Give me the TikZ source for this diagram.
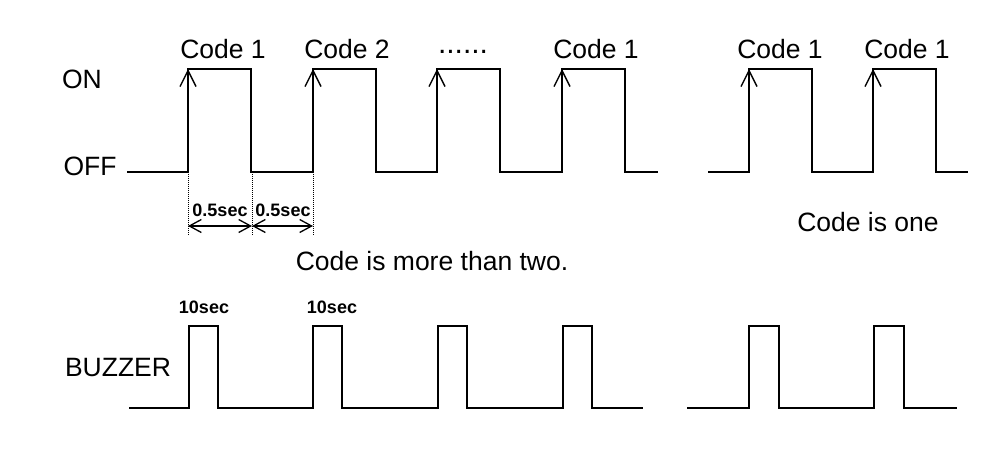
\documentclass[tikz,border=0pt]{standalone}
\usepackage{fontspec}
\setmainfont{Liberation Sans}
\usetikzlibrary{arrows.meta}
\begin{document}
\begin{tikzpicture}[x=1pt,y=-1pt,line width=1.7pt,
    lbl/.style={font=\fontsize{26.5}{30}\selectfont},
    tlbl/.style={font=\bfseries\fontsize{18}{20}\selectfont},
    edgearrow/.style={-{Straight Barb[length=16pt,width=16pt,line width=1.4pt]}},
    dimarrow/.style={{Straight Barb[length=12pt,width=13pt,line width=1.3pt]}-{Straight Barb[length=12pt,width=13pt,line width=1.3pt]},line width=1.3pt}]
  \useasboundingbox (0,0) rectangle (1008,462);

  % signal names
  \node[lbl] (on) at (82,79) {ON};
  \node[lbl] (off) at (90,166) {OFF};
  \node[lbl] (buzzer) at (118,368) {BUZZER};

  % code is more than two
  \draw (127,172) \foreach \x in {188,313,437,562}{ -- (\x,172) -- (\x,69) -- (\x+63,69) -- (\x+63,172)} -- (658,172);
  \foreach \x in {188,313,437,562}
    \draw[edgearrow] (\x,172) -- (\x,69);
  \node[lbl] (c1) at (223,49) {Code 1};
  \node[lbl] (c2) at (347,49) {Code 2};
  \node[lbl,font=\fontsize{30}{32}\selectfont] (dots) at (463,52) {......};
  \node[lbl] (c3) at (596,49) {Code 1};

  % 0.5sec marks
  \foreach \x in {188,252,313}
    \draw[densely dotted,line width=1pt] (\x,172) -- (\x,236);
  \draw[dimarrow] (188,226) -- (252,226);
  \draw[dimarrow] (252,226) -- (313,226);
  \node[tlbl] (t1) at (220,210) {0.5sec};
  \node[tlbl] (t2) at (283,210) {0.5sec};
  \node[lbl] (more) at (432,261) {Code is more than two.};

  % code is one
  \draw (708,172) \foreach \x in {749,873}{ -- (\x,172) -- (\x,69) -- (\x+63,69) -- (\x+63,172)} -- (968,172);
  \foreach \x in {749,873}
    \draw[edgearrow] (\x,172) -- (\x,69);
  \node[lbl] (c4) at (780,49) {Code 1};
  \node[lbl] (c5) at (907,49) {Code 1};
  \node[lbl] (one) at (868,222) {Code is one};

  % buzzer
  \draw (129,408) \foreach \x in {189,313,438,563}{ -- (\x,408) -- (\x,326) -- (\x+29,326) -- (\x+29,408)} -- (643,408);
  \draw (687,408) \foreach \x in {749,874}{ -- (\x,408) -- (\x,326) -- (\x+30,326) -- (\x+30,408)} -- (957,408);
  \node[tlbl] (b1) at (204,307) {10sec};
  \node[tlbl] (b2) at (332,307) {10sec};
\end{tikzpicture}
\end{document}
